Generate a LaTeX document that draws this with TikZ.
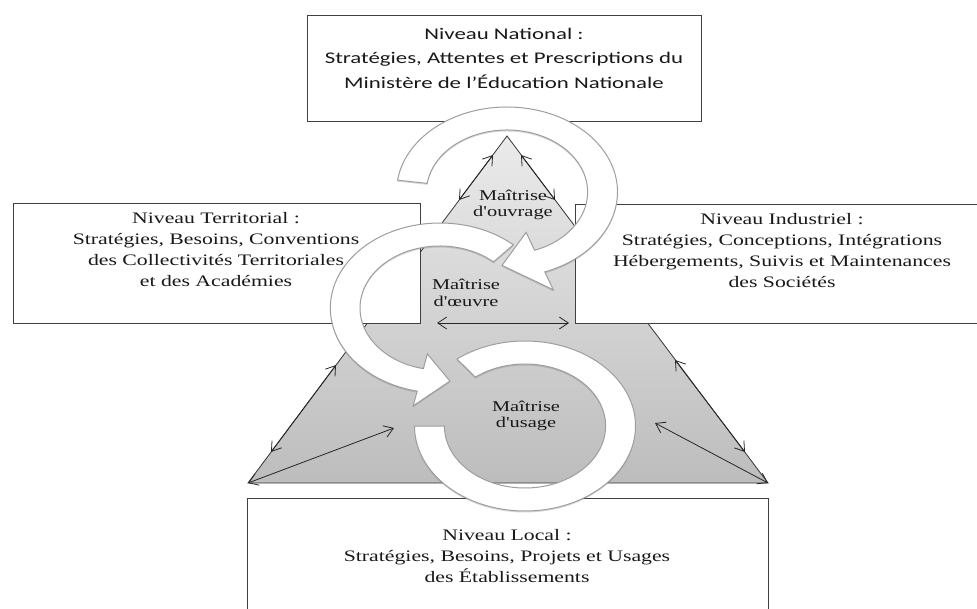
\documentclass[tikz,border=0pt]{standalone}
\usepackage{fontspec}
\usetikzlibrary{arrows.meta,shadows}
\newfontfamily\calib[FakeStretch=1.4]{Carlito}
\newfontfamily\tnr[FakeStretch=1.36,Ligatures=TeXOff]{Liberation Serif}
\begin{document}
\begin{tikzpicture}[x=1pt,y=-1pt,
  box/.style={draw=black!75, line width=1.1pt, fill=white, inner sep=0pt, anchor=north west},
  boxtext/.style={align=center, text=black!90, inner sep=0pt},
  ser/.style={font=\tnr\fontsize{16}{21}\selectfont},
  sans/.style={font=\calib\fontsize{16.3}{24.5}\selectfont},
  lab/.style={align=center, inner sep=0pt, text=black!90, font=\tnr\fontsize{15}{16.5}\selectfont},
  dar/.style={draw=black!85, line width=0.8pt,
    {Straight Barb[length=9pt,width=12pt]}-{Straight Barb[length=9pt,width=12pt]}},
  tri/.style={draw=black!80, line width=0.8pt},
  ring/.style={fill=white, draw=black!38, line width=1pt,
    drop shadow={shadow xshift=0pt, shadow yshift=-1.5pt, opacity=0.25, fill=black!60}}
]
\useasboundingbox (0,0) rectangle (977,609);

% triangle
\coordinate (A) at (507,136);
\coordinate (L) at (248,483);
\coordinate (R) at (768,483);
\path[top color=gray!16, bottom color=gray!52] (A) -- (L) -- (R) -- cycle;
\draw[tri] (A) -- (L) -- (R) -- cycle;

% arrows along the triangle
\coordinate (a1) at (493,155); \coordinate (a2) at (459,200);
\coordinate (b1) at (521,155); \coordinate (b2) at (555,200);
\coordinate (c1) at (336,365); \coordinate (c2) at (271,452);
\coordinate (d1) at (675,360); \coordinate (d2) at (745,452);
\coordinate (e2) at (394,428);
\coordinate (f2) at (655,423);
\coordinate (g1) at (437,323); \coordinate (g2) at (569,323);
\draw[dar] (a1) -- (a2);
\draw[dar] (b1) -- (b2);
\draw[dar] (c1) -- (c2);
\draw[dar] (d1) -- (d2);
\draw[dar] (L) -- (e2);
\draw[dar] (R) -- (f2);
\draw[dar] (g1) -- (g2);

% boxes
\node[box, minimum width=394pt, minimum height=106pt] (nat) at (307,15) {};
\node[box, minimum width=407pt, minimum height=120pt] (ter) at (13,203) {};
\node[box, minimum width=420pt, minimum height=119pt] (ind) at (575,204) {};
\node[box, minimum width=521pt, minimum height=140pt] (loc) at (247,498) {};

\node[boxtext, sans] (natT) at (504,58) {Niveau National :\\Stratégies, Attentes et Prescriptions du\\Ministère de l’Éducation Nationale};
\node[boxtext, ser] (terT) at (216,249.5) {Niveau Territorial :\\Stratégies, Besoins, Conventions\\des Collectivités Territoriales\\et des Académies};
\node[boxtext, ser] (indT) at (782,251) {Niveau Industriel :\\Stratégies, Conceptions, Intégrations\\Hébergements, Suivis et Maintenances\\des Sociétés};
\node[boxtext, ser] (locT) at (507,556) {Niveau Local :\\Stratégies, Besoins, Projets et Usages\\des Établissements};

% rings
\begin{scope}[shift={(525,426)}, xscale=1.3]
\filldraw[ring] (-128:85) arc[start angle=-128, end angle=180, radius=85]
  -- (180:62) arc[start angle=180, end angle=-128, radius=62] -- cycle;
\end{scope}
\begin{scope}[shift={(440,308)}, xscale=1.29]
\filldraw[ring] (-48:85) arc[start angle=-48, end angle=-258, radius=85]
  -- (-258:100) -- (-276:73.5) -- (-258:47) -- (-258:62)
  arc[start angle=-258, end angle=-48, radius=62] -- cycle;
\end{scope}
\begin{scope}[shift={(507,192)}, xscale=1.3]
\filldraw[ring] (188:85) arc[start angle=188, end angle=430, radius=85]
  -- (430:104) -- (453:73.5) -- (430:43) -- (430:62)
  arc[start angle=430, end angle=188, radius=62] -- cycle;
\end{scope}

% labels
\node[lab] (mo) at (513,205) {Maîtrise\\d'ouvrage};
\node[lab] (moe) at (466,293) {Maîtrise\\d'œuvre};
\node[lab] (mu) at (526,416) {Maîtrise\\d'usage};
\end{tikzpicture}
\end{document}
